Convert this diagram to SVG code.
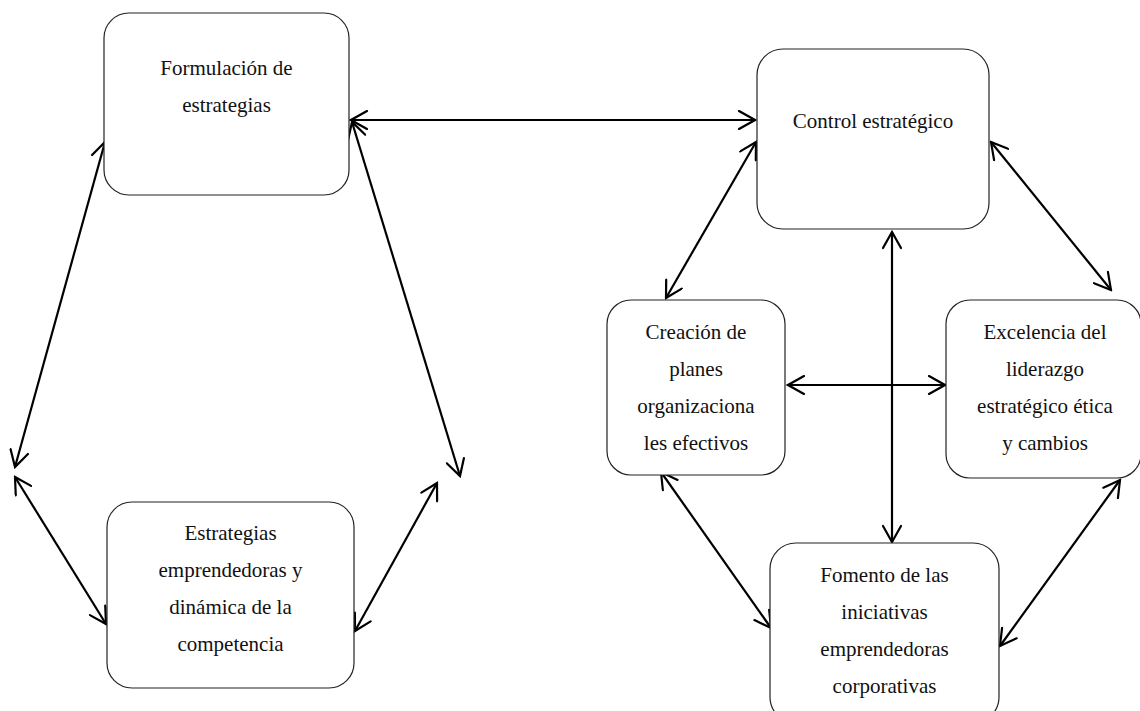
<svg xmlns="http://www.w3.org/2000/svg" width="1140" height="711" viewBox="0 0 1140 711">
  <style>
    .box { fill: #ffffff; stroke: #222222; stroke-width: 1.2; }
    .lbl { font-family: "Liberation Serif", "Times New Roman", serif; font-size: 21px; fill: #111111; text-anchor: middle; }
    .link { stroke: #000000; stroke-width: 2.2; fill: none; marker-start: url(#head); marker-end: url(#head); }
  </style>
  <defs>
    <!-- open V arrowhead, used at both ends of every link -->
    <marker id="head" markerUnits="userSpaceOnUse" viewBox="0 0 20 20" markerWidth="20" markerHeight="20" refX="18" refY="10" orient="auto-start-reverse">
      <path d="M2,1 L18,10 L2,19" fill="none" stroke="#000000" stroke-width="2.2" stroke-linecap="round" stroke-linejoin="miter"/>
    </marker>
  </defs>

  <rect width="1140" height="711" fill="#ffffff"/>

  <g id="connectors">
    <line class="link" x1="351" y1="120" x2="755" y2="120"/>
    <line class="link" x1="105" y1="142" x2="15" y2="467"/>
    <line class="link" x1="352" y1="122" x2="460" y2="476"/>
    <line class="link" x1="15" y1="477" x2="106" y2="624"/>
    <line class="link" x1="437" y1="483" x2="355" y2="631"/>
    <line class="link" x1="756" y1="142" x2="666" y2="298"/>
    <line class="link" x1="991" y1="142" x2="1111" y2="290"/>
    <line class="link" x1="892" y1="232" x2="892" y2="542"/>
    <line class="link" x1="788" y1="385" x2="945" y2="385"/>
    <line class="link" x1="661" y1="472" x2="771" y2="628"/>
    <line class="link" x1="1120" y1="480" x2="1000" y2="646"/>
  </g>

  <g id="formulacion">
    <rect class="box" x="104" y="13" width="245" height="182" rx="25" ry="25"/>
    <text class="lbl" x="226.5" y="75">Formulación de</text>
    <text class="lbl" x="226.5" y="112">estrategias</text>
  </g>

  <g id="control">
    <rect class="box" x="757" y="49" width="232" height="180" rx="26" ry="26"/>
    <text class="lbl" x="873" y="128">Control estratégico</text>
  </g>

  <g id="emprendedoras">
    <rect class="box" x="107" y="502" width="247" height="186" rx="25" ry="25"/>
    <text class="lbl" x="230.5" y="540">Estrategias</text>
    <text class="lbl" x="230.5" y="577">emprendedoras y</text>
    <text class="lbl" x="230.5" y="614">dinámica de la</text>
    <text class="lbl" x="230.5" y="651">competencia</text>
  </g>

  <g id="planes">
    <rect class="box" x="607" y="300" width="178" height="175" rx="24" ry="24"/>
    <text class="lbl" x="696" y="339">Creación de</text>
    <text class="lbl" x="696" y="376">planes</text>
    <text class="lbl" x="696" y="413">organizaciona</text>
    <text class="lbl" x="696" y="450">les efectivos</text>
  </g>

  <g id="liderazgo">
    <rect class="box" x="946" y="300" width="195" height="178" rx="24" ry="24"/>
    <text class="lbl" x="1045" y="339">Excelencia del</text>
    <text class="lbl" x="1045" y="376">liderazgo</text>
    <text class="lbl" x="1045" y="413">estratégico ética</text>
    <text class="lbl" x="1045" y="450">y cambios</text>
  </g>

  <g id="fomento">
    <rect class="box" x="770" y="543" width="229" height="180" rx="26" ry="26"/>
    <text class="lbl" x="884.5" y="582">Fomento de las</text>
    <text class="lbl" x="884.5" y="619">iniciativas</text>
    <text class="lbl" x="884.5" y="656">emprendedoras</text>
    <text class="lbl" x="884.5" y="693">corporativas</text>
  </g>
</svg>
